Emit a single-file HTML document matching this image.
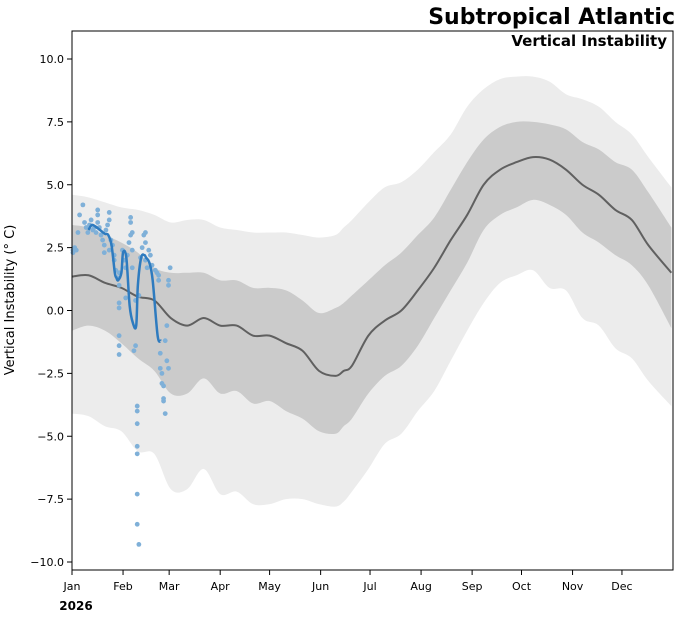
<!DOCTYPE html>
<html><head><meta charset="utf-8"><style>
body{margin:0;background:#fff;}
svg{display:block;font-family:"DejaVu Sans","Liberation Sans",sans-serif;}
</style></head><body>
<svg id="chart" width="690" height="618" viewBox="0 0 690 618">
<text x="675" y="24" text-anchor="end" font-size="22" font-weight="bold">Subtropical Atlantic</text>
<text transform="translate(14,300) rotate(-90)" text-anchor="middle" font-size="13">Vertical Instability (° C)</text>
<text x="76" y="610" text-anchor="middle" font-size="12" font-weight="bold">2026</text>
<g id="plot"></g>
</svg>
<script>
const climDays=[0,10,20,30,40,50,60,70,80,90,100,110,120,130,140,150,160,165,170,180,190,200,210,220,230,240,250,260,270,280,290,300,310,320,330,340,350,364];
const meanVals=[1.35,1.4,1.1,0.9,0.55,0.4,-0.3,-0.6,-0.3,-0.6,-0.6,-1.0,-1.0,-1.3,-1.6,-2.4,-2.6,-2.4,-2.2,-1.0,-0.4,0.0,0.8,1.7,2.8,3.8,5.0,5.6,5.9,6.1,6.0,5.6,5.0,4.6,4.0,3.6,2.6,1.5];
const innerLo=[-0.8,-0.6,-0.8,-1.3,-1.9,-2.4,-3.3,-3.3,-2.7,-3.3,-3.2,-3.7,-3.6,-4.0,-4.3,-4.8,-4.9,-4.6,-4.3,-3.3,-2.6,-2.2,-1.4,-0.3,0.8,1.9,3.2,3.8,4.1,4.4,4.2,3.8,3.1,2.7,2.2,1.8,1.0,-0.7];
const innerHi=[3.4,3.3,3.0,2.7,2.3,1.7,1.5,1.5,1.5,1.2,1.2,0.9,0.9,0.8,0.4,-0.1,0.1,0.3,0.6,1.2,1.8,2.3,3.0,3.7,4.8,5.9,6.8,7.3,7.5,7.5,7.4,7.2,6.7,6.4,5.9,5.6,4.7,3.3];
const outerLo=[-4.1,-4.2,-4.6,-4.8,-5.6,-5.7,-7.1,-7.1,-6.3,-7.3,-7.2,-7.7,-7.7,-7.5,-7.5,-7.7,-7.8,-7.6,-7.2,-6.3,-5.3,-4.9,-4.0,-3.2,-2.0,-0.8,0.3,1.1,1.4,1.6,0.9,0.8,-0.3,-0.6,-1.5,-1.9,-2.8,-3.8];
const outerHi=[4.6,4.5,4.3,4.1,4.0,3.8,3.5,3.6,3.6,3.3,3.2,3.1,3.1,3.1,3.0,2.9,3.0,3.3,3.6,4.3,4.9,5.1,5.6,6.3,7.0,8.1,8.8,9.2,9.3,9.3,9.1,8.6,8.4,8.1,7.5,7.0,6.1,4.9];
const obsDays=[10,12,14,17,20,22,24,26,27,28,30,31,33,35,37,39,40,42,44,45,47,49,52,54];
const obsVals=[3.2,3.4,3.35,3.2,3.05,3.0,2.6,1.5,1.3,1.2,1.5,2.3,2.1,0.2,-0.5,-0.6,1.0,2.1,2.2,2.1,1.9,1.2,-1.0,-1.2];
const dotDays=[0,0,1,2,3,4,6,7,8,9,10,11,12,13,14,15,15,15,16,17,18,19,19,20,21,22,22,22,23,24,25,25,26,27,28,28,28,28,28,28,28,30,31,32,32,33,34,35,35,35,36,36,36,37,38,38,39,39,39,39,39,39,39,40,40,41,42,43,44,44,44,45,46,47,48,50,51,52,52,53,53,54,54,55,55,55,56,56,57,57,58,58,58,59];
const dotVals=[2.4,2.3,2.5,2.4,3.1,3.8,4.2,3.5,3.3,3.1,3.4,3.6,3.2,3.3,3.1,3.5,3.8,4.0,3.3,3.0,2.8,2.6,2.3,3.2,3.4,3.9,3.6,2.4,2.8,2.6,2.2,2.0,1.6,1.3,1.0,1.5,0.3,0.1,-1.0,-1.4,-1.75,2.4,2.0,1.7,0.5,2.2,2.7,3.5,3.7,3.0,3.1,1.7,2.4,-1.6,-1.4,0.4,-3.8,-4.0,-4.5,-5.4,-5.7,-7.3,-8.5,-9.3,0.6,2.1,2.5,3.0,2.7,3.1,2.0,1.7,2.4,2.2,1.8,1.6,1.5,1.4,1.2,-1.7,-2.3,-2.5,-2.9,-3.0,-3.5,-3.6,-4.1,-1.2,-0.6,-2.0,-2.3,1.0,1.2,1.7];
const yTicks=[-10,-7.5,-5,-2.5,0,2.5,5,7.5,10];
const monthLabels=["Jan","Feb","Mar","Apr","May","Jun","Jul","Aug","Sep","Oct","Nov","Dec"];
const monthStarts=[0,31,59,90,120,151,181,212,243,273,304,334];

const L=72,R=673,T=31,B=570;
const xs=d=>L+d*(R-L)/365;
const ys=v=>310.5-v*25.15;
const NS="http://www.w3.org/2000/svg";
const g=document.getElementById('plot');
function mk(tag,attrs){const e=document.createElementNS(NS,tag);for(const k in attrs)e.setAttribute(k,attrs[k]);g.appendChild(e);return e;}
// smooth path through points (catmull-rom)
function smooth(pts,move){
  let s=(move?"M":"L")+pts[0][0]+","+pts[0][1];
  for(let i=0;i<pts.length-1;i++){
    const p0=pts[Math.max(0,i-1)],p1=pts[i],p2=pts[i+1],p3=pts[Math.min(pts.length-1,i+2)];
    const c1=[p1[0]+(p2[0]-p0[0])/6,p1[1]+(p2[1]-p0[1])/6];
    const c2=[p2[0]-(p3[0]-p1[0])/6,p2[1]-(p3[1]-p1[1])/6];
    s+="C"+c1[0]+","+c1[1]+" "+c2[0]+","+c2[1]+" "+p2[0]+","+p2[1];
  }
  return s;
}
function bandPath(lo,hi){
  const top=climDays.map((d,i)=>[xs(d),ys(hi[i])]);
  const bot=climDays.map((d,i)=>[xs(d),ys(lo[i])]).reverse();
  return smooth(top,true)+smooth(bot,false)+"Z";
}
const ob=mk('path',{d:bandPath(outerLo,outerHi),fill:'#ececec'});


const ib=mk('path',{d:bandPath(innerLo,innerHi),fill:'#cbcbcb'});


const ml=mk('path',{d:smooth(climDays.map((d,i)=>[xs(d),ys(meanVals[i])]),true),fill:'none',stroke:'#606060','stroke-width':2});


dotDays.forEach((d,i)=>{
  const c=mk('circle',{cx:xs(d)+1,cy:ys(dotVals[i]),r:2.4,fill:'#7fb0d8'});
  
  
});
const bl=mk('path',{d:smooth(obsDays.map((d,i)=>[xs(d),ys(obsVals[i])]),true),fill:'none',stroke:'#2e7bbf','stroke-width':2.5});


const fr=mk('rect',{x:L,y:T,width:R-L,height:B-T,fill:'none',stroke:'#000','stroke-width':1});


yTicks.forEach(v=>{
  const y=ys(v);
  const t=mk('line',{x1:L-5,x2:L,y1:y,y2:y,stroke:'#000'});
  
  
  const lb=mk('text',{x:L-8,y:y+4,'text-anchor':'end','font-size':11});
  lb.textContent=v.toFixed(1).replace('-','\u2212');
  
  
});
monthStarts.forEach((d,i)=>{
  const x=xs(d);
  const t=mk('line',{x1:x,x2:x,y1:B,y2:B+5,stroke:'#000'});
  
  
  const lb=mk('text',{x:x,y:B+20,'text-anchor':'middle','font-size':11});
  lb.textContent=monthLabels[i];
  
  
});
const st=mk('text',{x:667,y:46,'text-anchor':'end','font-size':15,'font-weight':'bold'});
st.textContent="Vertical Instability";


</script>
</body></html>
